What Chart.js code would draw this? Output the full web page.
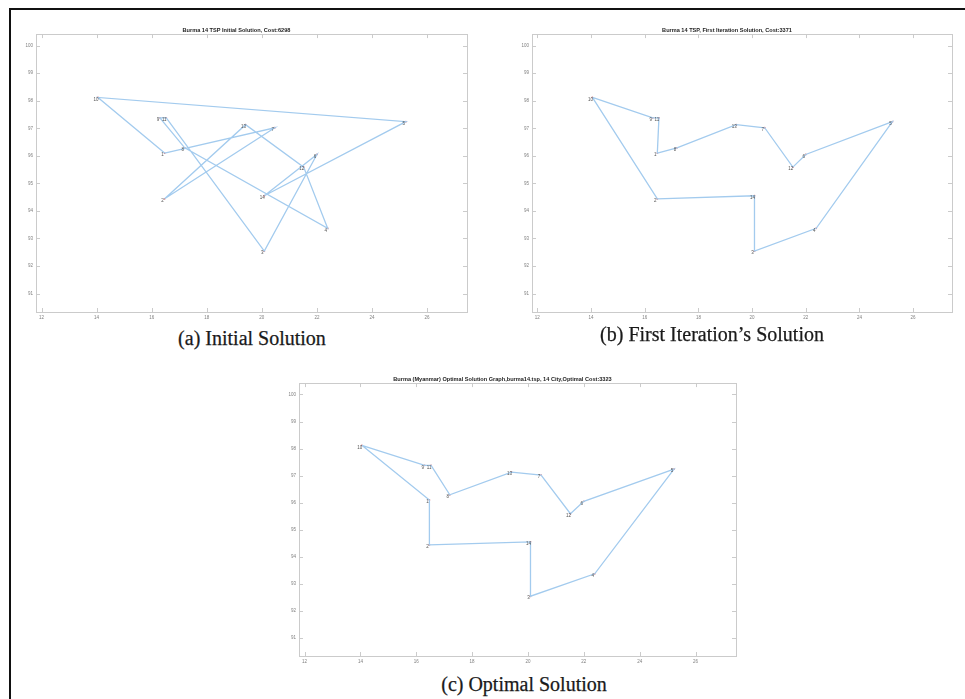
<!DOCTYPE html>
<html>
<head>
<meta charset="utf-8">
<title>Burma 14 TSP</title>
<script src="https://cdn.jsdelivr.net/npm/chart.js"></script>
<style>
html, body { margin: 0; padding: 0; background: #fff; }
body { width: 965px; height: 699px; position: relative; overflow: hidden; }
.frame { position: absolute; left: 9px; top: 8px; width: 970px; height: 710px;
         border-left: 2px solid #111; border-top: 2px solid #111; }
.panel { position: absolute; }
.cap { position: absolute; font-family: "Liberation Serif", serif; font-size: 20px;
       color: #1a1a1a; white-space: nowrap; transform: translate(-50%, -50%);
       -webkit-text-stroke: 0.25px #1a1a1a; }
</style>
</head>
<body>
<div class="frame"></div>

<canvas id="chartA" class="panel" width="467" height="304" style="left:6px;top:22px"></canvas>
<canvas id="chartB" class="panel" width="456" height="304" style="left:502px;top:22px"></canvas>
<canvas id="chartC" class="panel" width="473" height="299" style="left:269px;top:371px"></canvas>

<div class="cap" style="left:252px;top:338px">(a) Initial Solution</div>
<div class="cap" style="left:712px;top:334px">(b) First Iteration’s Solution</div>
<div class="cap" style="left:524px;top:684px">(c) Optimal Solution</div>

<script>
// burma14 city coordinates
const cityIds = [1, 2, 3, 4, 5, 6, 7, 8, 9, 10, 11, 12, 13, 14];
const cityX = [16.47, 16.47, 20.09, 22.39, 25.23, 22.00, 20.47, 17.20, 16.30, 14.05, 16.53, 21.52, 19.41, 20.09];
const cityY = [96.10, 94.44, 92.54, 93.37, 97.24, 96.05, 97.02, 96.29, 97.38, 98.12, 97.38, 95.59, 97.13, 94.55];

// visiting order of each tour (closed)
const tourInitial = [1, 10, 5, 14, 6, 3, 11, 9, 8, 4, 12, 13, 2, 7, 1];
const tourFirst = [10, 9, 11, 1, 8, 13, 7, 12, 6, 5, 4, 3, 14, 2, 10];
const tourOptimal = [10, 9, 11, 8, 13, 7, 12, 6, 5, 4, 3, 14, 2, 1, 10];

const xTicks = [12, 14, 16, 18, 20, 22, 24, 26];
const yTicks = [91, 92, 93, 94, 95, 96, 97, 98, 99, 100];
const xRange = [11.8, 27.45];
const yRange = [90.33, 100.42];

const titleA = 'Burma 14 TSP Initial Solution, Cost:6298';
const titleB = 'Burma 14 TSP, First Iteration Solution, Cost:3371';
const titleC = 'Burma (Myanmar) Optimal Solution Graph,burma14.tsp, 14 City,Optimal Cost:3323';

const LINE = '#a3cbee';
const AXIS = '#cbcbcb';
const TICKTXT = '#808080';

// box around plot area with inward ticks on all four sides (matlab style)
const boxTicks = {
    id: 'boxTicks',
    afterDraw(chart) {
        const { ctx, chartArea: a, scales } = chart;
        ctx.save();
        ctx.strokeStyle = AXIS;
        ctx.lineWidth = 1;
        ctx.strokeRect(Math.round(a.left) + 0.5, Math.round(a.top) + 0.5,
            Math.round(a.right - a.left), Math.round(a.bottom - a.top));
        ctx.beginPath();
        xTicks.forEach(v => {
            const px = Math.round(scales.x.getPixelForValue(v)) + 0.5;
            ctx.moveTo(px, a.bottom); ctx.lineTo(px, a.bottom - 4);
            ctx.moveTo(px, a.top); ctx.lineTo(px, a.top + 4);
        });
        yTicks.forEach(v => {
            const py = Math.round(scales.y.getPixelForValue(v)) + 0.5;
            ctx.moveTo(a.left, py); ctx.lineTo(a.left + 4, py);
            ctx.moveTo(a.right, py); ctx.lineTo(a.right - 4, py);
        });
        ctx.stroke();
        ctx.restore();
    }
};

// city number next to each city marker
const cityLabels = {
    id: 'cityLabels',
    afterDatasetsDraw(chart) {
        const { ctx } = chart;
        const meta = chart.getDatasetMeta(1);
        ctx.save();
        ctx.font = '4.5px "Liberation Sans", Arial, sans-serif';
        ctx.fillStyle = '#555';
        ctx.textAlign = 'center';
        ctx.textBaseline = 'middle';
        meta.data.forEach((pt, i) => {
            ctx.fillText(String(cityIds[i]), pt.x - 2, pt.y + 2);
        });
        ctx.restore();
    }
};

function makeChart(id, tour, title) {
    const path = tour.map(c => ({ x: cityX[c - 1], y: cityY[c - 1] }));
    const cities = cityIds.map((c, i) => ({ x: cityX[i], y: cityY[i] }));
    return new Chart(document.getElementById(id), {
        type: 'scatter',
        data: {
            datasets: [
                { data: path, showLine: true, borderColor: LINE, borderWidth: 1.3,
                  pointRadius: 0, tension: 0, fill: false },
                { data: cities, showLine: false, pointRadius: 0.9,
                  pointBackgroundColor: '#e07070', pointBorderWidth: 0 }
            ]
        },
        options: {
            responsive: false,
            devicePixelRatio: 1,
            animation: false,
            layout: { padding: { left: 0, top: 1.5, right: 6, bottom: 0 } },
            plugins: {
                legend: { display: false },
                tooltip: { enabled: false },
                title: {
                    display: true, text: title, color: '#222',
                    font: { family: '"Liberation Sans", Arial, sans-serif', size: 5.6, weight: 'bold', lineHeight: 1 },
                    padding: { top: 4.5, bottom: 0.5 }
                }
            },
            scales: {
                x: {
                    type: 'linear', min: xRange[0], max: xRange[1],
                    grid: { display: false, drawTicks: false }, border: { display: false },
                    afterBuildTicks: s => { s.ticks = xTicks.map(v => ({ value: v })); },
                    afterFit: s => { s.height = 14; },
                    ticks: { color: TICKTXT, padding: 3, maxRotation: 0, autoSkip: false,
                             font: { family: '"Liberation Sans", Arial, sans-serif', size: 4.5 } }
                },
                y: {
                    type: 'linear', min: yRange[0], max: yRange[1],
                    grid: { display: false, drawTicks: false }, border: { display: false },
                    afterBuildTicks: s => { s.ticks = yTicks.map(v => ({ value: v })); },
                    afterFit: s => { s.width = 30; },
                    ticks: { color: TICKTXT, padding: 3, autoSkip: false,
                             font: { family: '"Liberation Sans", Arial, sans-serif', size: 4.5 } }
                }
            }
        },
        plugins: [boxTicks, cityLabels]
    });
}

makeChart('chartA', tourInitial, titleA);
makeChart('chartB', tourFirst, titleB);
makeChart('chartC', tourOptimal, titleC);
</script>
</body>
</html>
